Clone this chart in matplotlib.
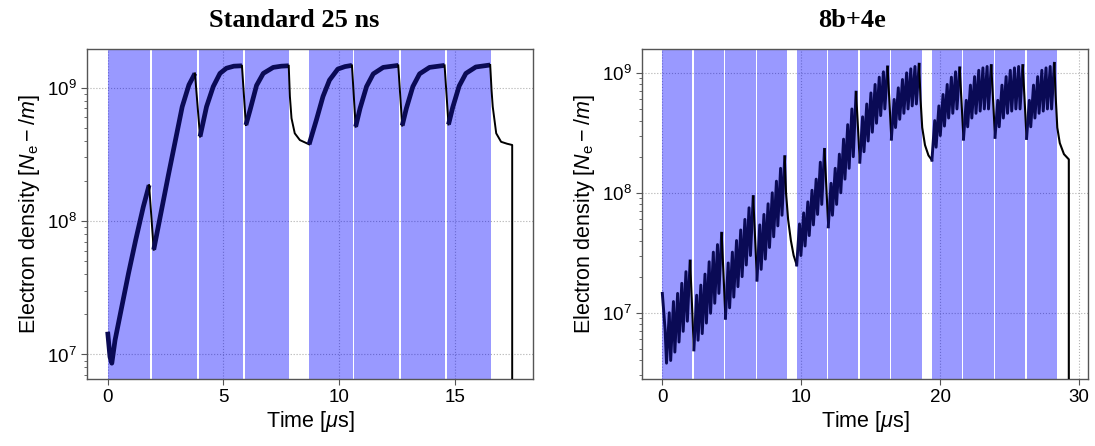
import matplotlib.pyplot as plt
from matplotlib.ticker import LogLocator, FixedLocator

plt.rcParams['font.family'] = ['Liberation Sans', 'DejaVu Sans']
plt.rcParams['mathtext.fontset'] = 'custom'
plt.rcParams['mathtext.rm'] = 'Liberation Sans'
plt.rcParams['mathtext.it'] = 'Liberation Sans:italic'
plt.rcParams['mathtext.bf'] = 'Liberation Sans:bold'

NAVY = '#0a0a55'
SHADE = (0.0, 0.0, 1.0, 0.4)

# ---------------- Standard 25 ns ----------------
# batch windows [us]
std_on = [0.00, 1.92, 3.93, 5.92, 8.70, 10.66, 12.66, 14.66]
std_off = [1.84, 3.85, 5.84, 7.84, 10.58, 12.58, 14.58, 16.54]

# electron line density along the two trains
std_t = [0.00, 0.10, 0.18, 0.32, 0.61, 0.90, 1.21, 1.54, 1.79,
         1.99, 2.62, 3.22, 3.51, 3.77,
         3.99, 4.27, 4.56, 4.85, 5.13, 5.45, 5.80,
         5.97, 6.15, 6.43, 6.72, 7.15, 7.50, 7.82,
         7.87, 7.94, 8.08, 8.30, 8.70,
         9.01, 9.30, 9.58, 9.94, 10.25, 10.55,
         10.71, 10.90, 11.18, 11.47, 11.90, 12.55,
         12.72, 12.90, 13.18, 13.47, 13.90, 14.55,
         14.72, 14.90, 15.18, 15.47, 15.90, 16.52,
         16.58, 16.63, 16.78, 16.99, 17.25, 17.47, 17.47]
std_ne = [1.48e7, 9.6e6, 8.6e6, 1.28e7, 2.28e7, 4.05e7, 7.2e7, 1.28e8, 1.86e8,
          6.1e7, 2.2e8, 7.2e8, 1.05e9, 1.28e9,
          4.3e8, 7.2e8, 1.02e9, 1.28e9, 1.40e9, 1.45e9, 1.46e9,
          5.25e8, 6.8e8, 1.04e9, 1.28e9, 1.42e9, 1.45e9, 1.46e9,
          8.6e8, 5.9e8, 4.55e8, 4.05e8, 3.76e8,
          5.7e8, 8.6e8, 1.14e9, 1.38e9, 1.44e9, 1.47e9,
          5.1e8, 7.0e8, 1.02e9, 1.27e9, 1.42e9, 1.47e9,
          5.2e8, 7.0e8, 1.02e9, 1.27e9, 1.42e9, 1.47e9,
          5.3e8, 7.1e8, 1.03e9, 1.28e9, 1.43e9, 1.48e9,
          9.5e8, 7.2e8, 4.55e8, 3.93e8, 3.8e8, 3.72e8, 1e5]

# ---------------- 8b+4e ----------------
eb_on = [0.00, 2.27, 4.54, 6.81, 9.67, 11.94, 14.21, 16.48, 19.40, 21.67, 23.94, 26.21]
eb_len = 2.17
TOOTH_PERIOD = 0.3   # 8 bunches + 4 empty at 25 ns
TOOTH_RISE = 0.2     # 8 bunches

# density at the start of each 8-bunch group and at its end
eb_troughs = [
    [1.45e7, 3.8e6, 4.0e6, 4.7e6, 5.7e6, 7.0e6, 8.5e6],
    [4.9e6, 5.9e6, 6.7e6, 8.2e6, 9.9e6, 1.2e7, 1.45e7],
    [9.0e6, 1.1e7, 1.35e7, 1.65e7, 2.0e7, 2.5e7, 3.0e7],
    [1.87e7, 2.3e7, 2.8e7, 3.5e7, 4.3e7, 5.3e7, 6.5e7],
    [2.5e7, 3.0e7, 3.6e7, 4.4e7, 5.4e7, 6.6e7, 8.0e7],
    [5.2e7, 6.5e7, 8.0e7, 1.0e8, 1.3e8, 1.6e8, 2.0e8],
    [1.8e8, 2.2e8, 2.7e8, 3.2e8, 3.8e8, 4.4e8, 5.0e8],
    [2.8e8, 3.5e8, 4.1e8, 4.6e8, 5.0e8, 5.3e8, 5.5e8],
    [1.87e8, 2.4e8, 3.0e8, 3.6e8, 4.2e8, 4.6e8, 5.0e8],
    [2.8e8, 3.55e8, 4.2e8, 4.6e8, 4.8e8, 5.0e8, 5.0e8],
    [2.9e8, 3.55e8, 4.2e8, 4.6e8, 4.8e8, 5.0e8, 5.0e8],
    [2.84e8, 3.55e8, 4.2e8, 4.6e8, 4.8e8, 5.0e8, 5.0e8],
]
eb_peaks = [
    [7.2e6, 1.0e7, 1.24e7, 1.45e7, 1.76e7, 2.2e7, 2.7e7],
    [1.4e7, 1.7e7, 2.1e7, 2.66e7, 3.2e7, 3.7e7, 4.6e7],
    [2.6e7, 3.2e7, 4.0e7, 4.9e7, 6.0e7, 7.5e7, 9.3e7],
    [5.4e7, 6.6e7, 8.1e7, 1.0e8, 1.25e8, 1.6e8, 2.0e8],
    [5.5e7, 6.8e7, 8.4e7, 1.05e8, 1.3e8, 1.8e8, 2.3e8],
    [1.2e8, 1.6e8, 2.1e8, 2.8e8, 3.7e8, 5.0e8, 6.9e8],
    [4.3e8, 5.5e8, 6.8e8, 8.0e8, 9.2e8, 1.02e9, 1.12e9],
    [6.0e8, 7.5e8, 8.8e8, 1.0e9, 1.08e9, 1.13e9, 1.18e9],
    [4.0e8, 5.3e8, 6.6e8, 8.0e8, 9.2e8, 1.02e9, 1.1e9],
    [5.9e8, 7.9e8, 9.3e8, 1.05e9, 1.1e9, 1.13e9, 1.15e9],
    [5.9e8, 7.9e8, 9.3e8, 1.05e9, 1.1e9, 1.13e9, 1.15e9],
    [5.9e8, 7.9e8, 9.3e8, 1.05e9, 1.1e9, 1.13e9, 1.2e9],
]
# decay during the long gaps between trains and after the last train
eb_gap1_t = [8.90, 9.05, 9.25, 9.45]
eb_gap1_ne = [1.0e8, 6.0e7, 4.0e7, 3.0e7]
eb_gap2_t = [18.58, 18.70, 18.90, 19.15]
eb_gap2_ne = [6.0e8, 3.5e8, 2.5e8, 2.05e8]
eb_tail_t = [28.30, 28.42, 28.60, 28.90, 29.25, 29.25]
eb_tail_ne = [6.5e8, 3.5e8, 2.6e8, 2.1e8, 1.9e8, 1e5]


def style_axes(ax, title_x, title):
    ax.set_yscale('log')
    ax.set_axisbelow(True)
    ax.grid(True, which='major', linestyle=':', color='#b0b0b0', linewidth=0.8)
    for sp in ax.spines.values():
        sp.set_color('#555555')
        sp.set_linewidth(1.0)
    ax.tick_params(which='both', direction='out', color='#555555', labelsize=13.5)
    ax.tick_params(which='major', length=4)
    ax.tick_params(which='minor', length=2.5)
    ax.yaxis.set_major_locator(LogLocator(base=10))
    ax.yaxis.set_minor_locator(LogLocator(base=10, subs=range(2, 10)))
    ax.set_xlabel(r'Time [$\mu$s]', fontsize=15.5, labelpad=2)
    ax.set_ylabel(r'Electron density [$N_\mathrm{e}-/m$]', fontsize=15.5, labelpad=4)
    fig.text(title_x, 1 - 27 / 446, title, ha='center', va='baseline',
             family=['Liberation Serif'], fontweight='bold', fontsize=19)


fig = plt.figure(figsize=(10.95, 4.46), dpi=100)
ax1 = fig.add_axes([0.0797, 0.1509, 0.4073, 0.7392])
ax2 = fig.add_axes([0.5866, 0.1509, 0.4070, 0.7392])

# ---- left panel
for a, b in zip(std_on, std_off):
    ax1.axvspan(a, b, color=SHADE, lw=0)

# beam-on stretches in navy, decays between batches in black
mids = [(std_t[i] + std_t[i + 1]) / 2 for i in range(len(std_t) - 1)]
on_flags = [any(a <= m <= b for a, b in zip(std_on, std_off)) for m in mids]
start = 0
for i in range(1, len(on_flags) + 1):
    if i == len(on_flags) or on_flags[i] != on_flags[start]:
        seg_t = std_t[start:i + 1]
        seg_n = std_ne[start:i + 1]
        if on_flags[start]:
            ax1.plot(seg_t, seg_n, color=NAVY, lw=3.4, solid_capstyle='butt',
                     solid_joinstyle='round', zorder=4)
        else:
            ax1.plot(seg_t, seg_n, color='black', lw=1.4, zorder=4)
        start = i

style_axes(ax1, 0.2683, 'Standard 25 ns')
ax1.set_xlim(-0.88, 18.38)
ax1.set_ylim(6.58e6, 1.95e9)
ax1.xaxis.set_major_locator(FixedLocator([0, 5, 10, 15]))

# ---- right panel
for s in eb_on:
    ax2.axvspan(s, s + eb_len, color=SHADE, lw=0)

long_gaps = {3: (eb_gap1_t, eb_gap1_ne), 7: (eb_gap2_t, eb_gap2_ne), 11: (eb_tail_t, eb_tail_ne)}
for b, s in enumerate(eb_on):
    tt, nn = [], []
    for k in range(len(eb_peaks[b])):
        tt += [s + k * TOOTH_PERIOD, s + k * TOOTH_PERIOD + TOOTH_RISE]
        nn += [eb_troughs[b][k], eb_peaks[b][k]]
    ax2.plot(tt, nn, color=NAVY, lw=2.1, zorder=4)
    dt, dn = [tt[-1]], [nn[-1]]
    if b in long_gaps:
        dt += long_gaps[b][0]
        dn += long_gaps[b][1]
    if b + 1 < len(eb_on):
        dt.append(eb_on[b + 1])
        dn.append(eb_troughs[b + 1][0])
    ax2.plot(dt, dn, color='black', lw=1.5, zorder=4)

style_axes(ax2, 0.7778, '8b+4e')
ax2.set_xlim(-1.44, 30.63)
ax2.set_ylim(2.82e6, 1.58e9)
ax2.xaxis.set_major_locator(FixedLocator([0, 10, 20, 30]))

fig.savefig('out.png', dpi=100)
